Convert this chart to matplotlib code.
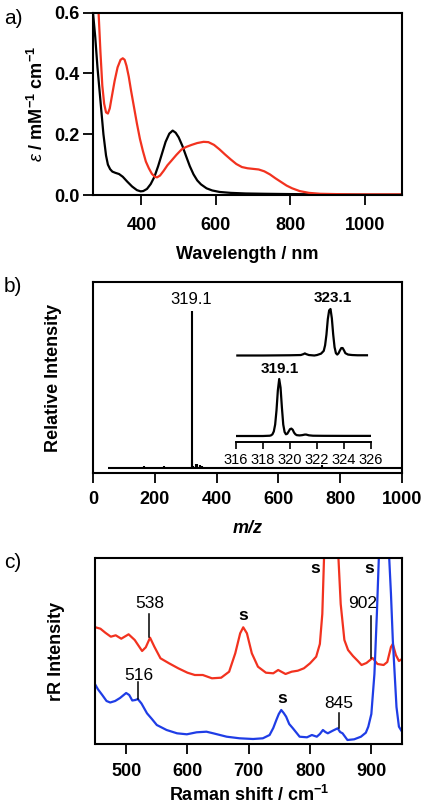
import numpy as np
import matplotlib
matplotlib.use('Agg')
from matplotlib import pyplot as plt

plt.rcParams['font.family'] = ['Liberation Sans', 'DejaVu Sans']
plt.rcParams['mathtext.fontset'] = 'custom'
plt.rcParams['mathtext.rm'] = 'Liberation Sans:bold'
plt.rcParams['mathtext.bf'] = 'Liberation Sans:bold'
plt.rcParams['mathtext.it'] = 'Liberation Sans:italic'
plt.rcParams['mathtext.default'] = 'bf'

RED = '#f2321f'
BLUE = '#1f3de6'

# ---- a) UV-vis absorption (nm, mM-1 cm-1)
wl_black = [270, 276, 282, 290, 298, 305, 310, 316, 322, 330, 340, 350, 362, 375, 388, 398, 405, 415,
            425, 435, 445, 455, 465, 475, 484, 492, 500, 510, 520, 530, 540, 550, 560, 575, 590, 610,
            640, 680, 730, 800, 900, 1000, 1100]
eps_black = [0.60, 0.52, 0.42, 0.31, 0.20, 0.13, 0.10, 0.085, 0.077, 0.073, 0.069, 0.060, 0.044, 0.028,
             0.016, 0.012, 0.013, 0.020, 0.036, 0.060, 0.095, 0.135, 0.175, 0.202, 0.212, 0.205, 0.190,
             0.162, 0.128, 0.095, 0.068, 0.048, 0.035, 0.022, 0.015, 0.010, 0.007, 0.005, 0.004, 0.003,
             0.002, 0.001, 0.001]
wl_red = [285, 290, 295, 300, 305, 310, 315, 320, 328, 336, 344, 350, 355, 360, 366, 372, 380, 388,
          396, 404, 412, 420, 428, 436, 442, 450, 460, 470, 480, 494, 508, 520, 535, 550, 567, 580,
          595, 610, 625, 640, 655, 670, 685, 700, 715, 730, 745, 760, 775, 790, 805, 825, 850, 880,
          920, 970, 1030, 1100]
eps_red = [0.60, 0.47, 0.36, 0.30, 0.272, 0.268, 0.285, 0.320, 0.375, 0.420, 0.445, 0.450, 0.445,
           0.425, 0.390, 0.345, 0.290, 0.235, 0.185, 0.145, 0.110, 0.088, 0.070, 0.060, 0.058, 0.064,
           0.080, 0.098, 0.112, 0.132, 0.150, 0.158, 0.165, 0.171, 0.175, 0.174, 0.165, 0.150, 0.133,
           0.117, 0.102, 0.092, 0.088, 0.086, 0.084, 0.078, 0.068, 0.055, 0.043, 0.031, 0.022, 0.013,
           0.007, 0.004, 0.003, 0.002, 0.002, 0.002]

# ---- b) mass spectrum (m/z, relative intensity)
ms_start, ms_end = 50, 1000
ms_mz = [100, 130, 165, 170, 230, 260, 290, 319.1, 321, 325, 332, 338, 345, 352, 365, 740]
ms_int = [0.008, 0.006, 0.012, 0.008, 0.014, 0.006, 0.008, 1.0, 0.05, 0.015, 0.03, 0.025, 0.02,
          0.012, 0.006, 0.018]

iso_a_mz = [316.0, 317.0, 318.0, 318.5, 318.6, 318.7, 318.8, 318.9, 319.0, 319.1, 319.2, 319.3, 319.4,
            319.5, 319.6, 319.7, 319.8, 319.9, 320.0, 320.1, 320.2, 320.3, 320.4, 320.5, 320.7, 320.9,
            321.1, 321.2, 321.4, 321.7, 322.5, 324.0, 326.0]
iso_a_int = [0.0, 0.0, 0.0, 0.005, 0.012, 0.03, 0.08, 0.2, 0.45, 0.8, 1.0, 0.85, 0.5, 0.2, 0.07, 0.03,
             0.04, 0.08, 0.12, 0.13, 0.11, 0.06, 0.03, 0.015, 0.01, 0.015, 0.025, 0.025, 0.012, 0.005,
             0.003, 0.002, 0.002]
iso_b_mz = [316.1, 318.0, 320.0, 320.8, 321.0, 321.1, 321.2, 321.4, 321.8, 322.0, 322.3, 322.5, 322.6,
            322.7, 322.8, 322.9, 323.0, 323.1, 323.2, 323.3, 323.4, 323.5, 323.6, 323.7, 323.8, 323.9,
            324.0, 324.1, 324.3, 324.6, 325.0, 325.7]
iso_b_int = [0.0, 0.0, 0.005, 0.01, 0.03, 0.045, 0.03, 0.01, 0.0, 0.01, 0.04, 0.1, 0.22, 0.45, 0.78,
             0.97, 1.0, 0.8, 0.45, 0.18, 0.05, 0.02, 0.05, 0.11, 0.16, 0.16, 0.11, 0.05, 0.02, 0.01,
             0.005, 0.005]

# ---- c) resonance Raman (cm-1, arb. units)
rr_red_x = [450, 458, 466, 475, 483, 492, 504, 514, 526, 532, 539, 546, 556, 570, 585, 600, 612, 625,
            640, 655, 668, 678, 686, 691, 697, 705, 715, 728, 740, 748, 760, 770, 780, 790, 800, 810,
            816, 820, 823, 828, 834, 840, 846, 850, 856, 862, 870, 878, 884, 892, 902, 910, 920, 926,
            932, 935, 940, 945, 950]
rr_red_y = [116.7, 115.3, 111.3, 107.3, 108.7, 105.3, 109.7, 104, 93, 96.7, 106.3, 97.3, 85.7, 80.7,
            75.7, 71.3, 69, 69, 65.7, 66.3, 72.3, 90.7, 110.7, 116.7, 110.7, 90.7, 77.3, 71.3, 70.7, 74,
            70, 72.3, 73.3, 75.7, 80.7, 87.3, 100, 130, 190, 400, 600, 400, 190, 140, 104, 94, 88, 83,
            79, 81, 86, 80, 79, 82, 97, 100, 89, 83, 85]
rr_blue_x = [450, 454, 461, 468, 474, 482, 490, 500, 505, 510, 515, 519, 525, 534, 542, 550, 566, 583,
             599, 615, 631, 642, 664, 685, 707, 723, 734, 740, 745, 749, 753, 757, 761, 766, 772, 783,
             795, 803, 811, 816, 821, 825, 829, 837, 845, 849, 853, 861, 872, 883, 891, 895, 900, 905,
             909, 913, 921, 928, 932, 935, 941, 945, 950]
rr_blue_y = [59, 54.7, 49, 43, 41.5, 43, 46, 51, 49, 43.5, 44, 45, 40.5, 30.7, 25, 19, 14, 10.7, 9.7,
             11.7, 12.3, 10.7, 7.3, 5.7, 5, 5.7, 9, 16, 24, 30, 34, 31, 27.3, 20, 15.7, 7.3, 6.7, 9, 7.3,
             10, 14, 12, 10.7, 13.3, 15.7, 12, 10.7, 4, 4.7, 7.3, 11.3, 17.3, 30, 70, 130, 200, 500, 200,
             150, 104, 37, 17.3, 12.3]

fig = plt.figure(figsize=(4.27, 8.11), dpi=100)

FS = 13
LW = 1.6

def style(ax, pad):
    for s in ax.spines.values():
        s.set_linewidth(1.5)
    ax.tick_params(direction='out', length=7, width=1.3, labelsize=FS, pad=pad)
    for lab in ax.get_xticklabels() + ax.get_yticklabels():
        lab.set_fontweight('bold')

W, H = 427.0, 811.0
def box(l, t, r, b):
    return [l / W, 1 - b / H, (r - l) / W, (b - t) / H]

# a)
ax1 = fig.add_axes(box(93, 12.7, 402, 195))
ax1.plot(wl_black, eps_black, color='black', lw=LW)
ax1.plot(wl_red, eps_red, color=RED, lw=LW)
ax1.set_xlim(270, 1100)
ax1.set_ylim(0, 0.6)
ax1.set_xticks([400, 600, 800, 1000])
ax1.set_yticks([0.0, 0.2, 0.4, 0.6])
ax1.set_yticklabels(['0.0', '0.2', '0.4', '0.6'])
style(ax1, 9)
ax1.tick_params(axis='y', pad=2.5)
ax1.set_xlabel('Wavelength / nm', fontsize=FS, fontweight='bold', labelpad=8.5)
ax1.set_ylabel(r'$\mathit{ε}$ / mM$^{-1}$ cm$^{-1}$', fontsize=FS, fontweight='bold', labelpad=5)
fig.text(4 / W, 1 - 19 / H, 'a)', fontsize=15, va='center')

# b)
ax2 = fig.add_axes(box(93, 282, 402, 473))
ax2.hlines(0, ms_start, ms_end, color='black', lw=1.5)
ax2.vlines(ms_mz, 0, ms_int, color='black', lw=1.5)
ax2.set_xlim(0, 1000)
ax2.set_ylim(-0.03, 1.184)
ax2.set_xticks([0, 200, 400, 600, 800, 1000])
ax2.set_yticks([])
style(ax2, 6)
ax2.set_xlabel('m/z', fontsize=FS, fontweight='bold', fontstyle='italic', labelpad=8.5)
ax2.set_ylabel('Relative Intensity', fontsize=FS, fontweight='bold', labelpad=22)
ax2.text(317, 1.074, '319.1', fontsize=12, ha='center', va='center')
fig.text(4 / W, 1 - 287 / H, 'b)', fontsize=15, va='center')

# inset
ax3 = fig.add_axes(box(236, 290, 371, 441.5))
ax3.plot(iso_a_mz, 5.5 + 57 * np.array(iso_a_int), color='black', lw=LW)
ax3.plot(iso_b_mz, 86 + 46.5 * np.array(iso_b_int), color='black', lw=LW)
ax3.set_xlim(316, 326)
ax3.set_ylim(0, 151.5)
ax3.set_xticks([316, 318, 320, 322, 324, 326])
ax3.set_yticks([])
for k in ['top', 'right', 'left']:
    ax3.spines[k].set_visible(False)
ax3.spines['bottom'].set_linewidth(1.4)
ax3.tick_params(direction='out', length=5, width=1.2, labelsize=10.5, pad=3)
ax3.patch.set_alpha(0)
ax3.text(319.26, 72.5, '319.1', fontsize=11, fontweight='bold', ha='center', va='center')
ax3.text(323.2, 143.8, '323.1', fontsize=11, fontweight='bold', ha='center', va='center')

# c)
ax4 = fig.add_axes(box(95.5, 558, 402, 744))
ax4.plot(rr_red_x, rr_red_y, color=RED, lw=LW)
ax4.plot(rr_blue_x, rr_blue_y, color=BLUE, lw=LW)
ax4.set_xlim(450, 950)
ax4.set_ylim(0, 186)
ax4.set_xticks([500, 600, 700, 800, 900])
ax4.set_yticks([])
style(ax4, 6.5)
ax4.set_xlabel('Raman shift / cm$^{-1}$', fontsize=FS, fontweight='bold', labelpad=4)
ax4.set_ylabel('rR Intensity', fontsize=FS, fontweight='bold', labelpad=22)
fs = 12.5
ax4.text(538, 140.7, '538', fontsize=fs, ha='center', va='center')
ax4.plot([538, 538], [130, 107], color='black', lw=1.1)
ax4.text(885, 140.7, '902', fontsize=fs, ha='center', va='center')
ax4.plot([900, 900], [128, 86], color='black', lw=1.1)
ax4.text(520, 68.3, '516', fontsize=fs, ha='center', va='center')
ax4.plot([519, 519], [62, 45], color='black', lw=1.1)
ax4.text(847, 40.7, '845', fontsize=fs, ha='center', va='center')
ax4.plot([847, 847], [31, 16], color='black', lw=1.1)
for sx, sy in [(690.7, 128), (807.7, 175.7), (896, 175.7), (754.6, 45.7)]:
    ax4.text(sx, sy, 's', fontsize=fs, fontweight='bold', ha='center', va='center')
fig.text(4 / W, 1 - 562 / H, 'c)', fontsize=15, va='center')

plt.savefig('out.png', dpi=100)
